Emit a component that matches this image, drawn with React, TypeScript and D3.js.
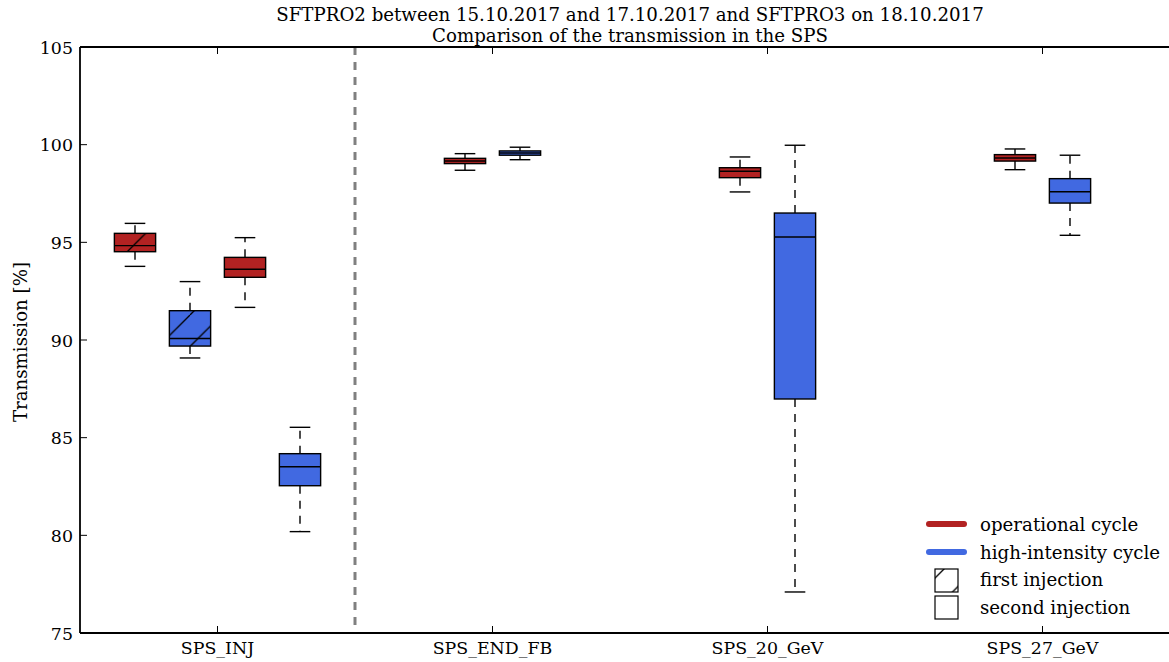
import React from "react";
import * as d3 from "d3";

const categories = ["SPS_INJ", "SPS_END_FB", "SPS_20_GeV", "SPS_27_GeV"];
const yTicks = [75, 80, 85, 90, 95, 100, 105];
const boxPositions = [0.7, 0.9, 1.1, 1.3, 1.9, 2.1, 2.9, 3.1, 3.9, 4.1];
const boxCycle = ["op", "hi", "op", "hi", "op", "hi", "op", "hi", "op", "hi"];
const boxHatched = [true, true, false, false, false, false, false, false, false, false];
const whiskerLow = [93.77, 89.08, 91.67, 80.19, 98.69, 99.23, 97.58, 77.1, 98.72, 95.36];
const q1 = [94.52, 89.69, 93.21, 82.54, 99.03, 99.46, 98.31, 86.98, 99.16, 97.01];
const medians = [94.83, 90.08, 93.62, 83.51, 99.16, 99.57, 98.64, 95.27, 99.32, 97.59];
const q3 = [95.46, 91.5, 94.23, 84.18, 99.3, 99.68, 98.82, 96.5, 99.49, 98.26];
const whiskerHigh = [95.97, 92.99, 95.24, 85.53, 99.54, 99.87, 99.37, 99.97, 99.78, 99.46];
const separatorPos = 1.5;
const legendLines = [
  { key: "op", label: "operational cycle" },
  { key: "hi", label: "high-intensity cycle" },
];
const legendBoxes = [
  { hatched: true, label: "first injection" },
  { hatched: false, label: "second injection" },
];

const colors: Record<string, string> = { op: "#B22222", hi: "#4169E1" };

export default function App() {
  const W = 1169, H = 662;
  const L = 80, T = 47, B = 633;
  const x = d3.scaleLinear().domain([0.5, 4.5]).range([L, L + 4 * 275]);
  const y = d3.scaleLinear().domain([75, 105]).range([B, T]);
  const bw = x(0.15) - x(0);
  const capW = bw / 2;
  const font = "'DejaVu Serif', serif";
  const fs = 18.2;
  const tfs = 17.4;
  const P = 31.5;

  return (
    <div style={{ position: "absolute", left: 0, top: 0 }}>
      <svg width={W} height={H} style={{ display: "block", background: "#fff" }}>
        <defs>
          <pattern id="hatch" patternUnits="userSpaceOnUse" x={1} y={0} width={P} height={P}>
            <line x1={0} y1={P} x2={P} y2={0} stroke="#000" strokeWidth={1.3} />
            <line x1={-P} y1={P} x2={0} y2={0} stroke="#000" strokeWidth={1.3} />
            <line x1={P} y1={P} x2={2 * P} y2={0} stroke="#000" strokeWidth={1.3} />
          </pattern>
          <clipPath id="plotclip">
            <rect x={L} y={T} width={W - L} height={B - T} />
          </clipPath>
        </defs>
        <text x={x(2.5)} y={21} textAnchor="middle" fontFamily={font} fontSize={fs}>
          SFTPRO2 between 15.10.2017 and 17.10.2017 and SFTPRO3 on 18.10.2017
        </text>
        <text x={x(2.5)} y={41.5} textAnchor="middle" fontFamily={font} fontSize={fs}>
          Comparison of the transmission in the SPS
        </text>

        <g clipPath="url(#plotclip)">
          <line x1={x(separatorPos)} x2={x(separatorPos)} y1={T} y2={B} stroke="#808080" strokeWidth={3} strokeDasharray="8,7" />
          {boxPositions.map((p, i) => {
            const cx = x(p);
            const col = colors[boxCycle[i]];
            return (
              <g key={i}>
                <line x1={cx} x2={cx} y1={y(q3[i])} y2={y(whiskerHigh[i])} stroke="#000" strokeWidth={1.4} strokeDasharray="8,7" />
                <line x1={cx} x2={cx} y1={y(q1[i])} y2={y(whiskerLow[i])} stroke="#000" strokeWidth={1.4} strokeDasharray="8,7" />
                <line x1={cx - capW / 2} x2={cx + capW / 2} y1={y(whiskerHigh[i])} y2={y(whiskerHigh[i])} stroke="#000" strokeWidth={1.4} />
                <line x1={cx - capW / 2} x2={cx + capW / 2} y1={y(whiskerLow[i])} y2={y(whiskerLow[i])} stroke="#000" strokeWidth={1.4} />
                <rect x={cx - bw / 2} y={y(q3[i])} width={bw} height={y(q1[i]) - y(q3[i])} fill={col} />
                {boxHatched[i] && (
                  <rect x={cx - bw / 2} y={y(q3[i])} width={bw} height={y(q1[i]) - y(q3[i])} fill="url(#hatch)" />
                )}
                <rect x={cx - bw / 2} y={y(q3[i])} width={bw} height={y(q1[i]) - y(q3[i])} fill="none" stroke="#000" strokeWidth={1.4} />
                <line x1={cx - bw / 2} x2={cx + bw / 2} y1={y(medians[i])} y2={y(medians[i])} stroke="#000" strokeWidth={1.4} />
              </g>
            );
          })}
          {yTicks.map((t) => (
            <line key={t} x1={L} x2={L + 7} y1={y(t)} y2={y(t)} stroke="#000" strokeWidth={1} />
          ))}
          {categories.map((c, i) => (
            <g key={c}>
              <line x1={x(i + 1)} x2={x(i + 1)} y1={B} y2={B - 7} stroke="#000" strokeWidth={1} />
              <line x1={x(i + 1)} x2={x(i + 1)} y1={T} y2={T + 7} stroke="#000" strokeWidth={1} />
            </g>
          ))}
        </g>

        {/* legend */}
        {legendLines.map((l, i) => (
          <g key={l.key}>
            <line x1={929} x2={964} y1={524 + i * 28} y2={524 + i * 28} stroke={colors[l.key]} strokeWidth={6} strokeLinecap="round" />
            <text x={980} y={531 + i * 27.5} fontFamily={font} fontSize={fs}>{l.label}</text>
          </g>
        ))}
        {legendBoxes.map((b, i) => (
          <g key={b.label}>
            {b.hatched && <rect x={935} y={569 + i * 27} width={23} height={23} fill="url(#hatch)" />}
            <rect x={935} y={569 + i * 27} width={23} height={23} fill="none" stroke="#000" strokeWidth={1.2} />
            <text x={980} y={586 + i * 27.5} fontFamily={font} fontSize={fs}>{b.label}</text>
          </g>
        ))}

        {/* frame */}
        <line x1={L} x2={L} y1={T} y2={B} stroke="#000" strokeWidth={1.8} />
        <line x1={L} x2={W} y1={T} y2={T} stroke="#000" strokeWidth={1.8} />
        <line x1={L} x2={W} y1={B} y2={B} stroke="#000" strokeWidth={1.8} />

        {yTicks.map((t) => (
          <text key={t} x={73} y={y(t) + 6.5} textAnchor="end" fontFamily={font} fontSize={tfs}>{t}</text>
        ))}
        {categories.map((c, i) => (
          <text key={c} x={x(i + 1)} y={654} textAnchor="middle" fontFamily={font} fontSize={tfs}>{c}</text>
        ))}
        <text transform={`translate(27,342) rotate(-90)`} textAnchor="middle" fontFamily={font} fontSize={fs}>
          Transmission [%]
        </text>
      </svg>
    </div>
  );
}
